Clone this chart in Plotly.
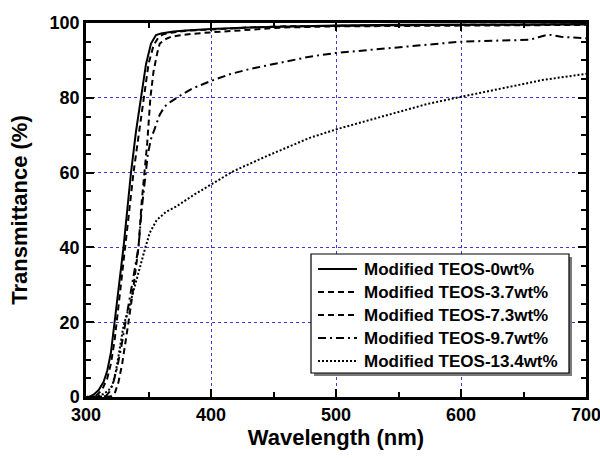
import plotly.graph_objects as go

# Transmittance spectra of films with modified TEOS content
wl_0 = [300, 303, 306, 310, 314, 317, 320, 323, 326, 330, 333, 336, 340, 344, 348, 352,
        356, 360, 365, 370, 380, 400, 430, 460, 500, 550, 600, 650, 700]
t_0 = [0, 0.1, 0.6, 1.8, 4, 7, 12, 20.5, 28, 40, 50, 60, 71, 80, 89, 94.5,
       96.8, 97.2, 97.5, 97.7, 98, 98.4, 98.8, 99.1, 99.3, 99.5, 99.6, 99.7, 99.7]

wl_37 = [300, 305, 309, 313, 317, 320, 323, 326, 329, 332, 335, 338, 342, 346, 350, 354,
         358, 362, 368, 380, 400, 430, 460, 500, 550, 600, 650, 700]
t_37 = [0, 0.1, 0.6, 2, 5, 9, 15.5, 24, 33, 42, 51, 60, 70, 80, 89, 94,
        96.2, 97, 97.4, 97.9, 98.3, 98.8, 99.1, 99.3, 99.4, 99.5, 99.6, 99.6]

wl_73 = [300, 315, 320, 323, 326, 329, 332, 334, 337, 340, 342, 344.5, 347, 349, 351.5,
         354, 357, 359, 363, 368, 373, 385, 400, 430, 458, 500, 550, 600, 650, 700]
t_73 = [0, 0, 0.2, 1, 4, 9, 15, 20, 27, 34, 40, 52, 60, 68, 80,
        87, 92, 94.5, 95.6, 96.3, 96.6, 97.1, 97.5, 98.2, 98.8, 99.1, 99.2, 99.3, 99.4, 99.5]

wl_97 = [300, 312, 316, 319, 322, 325, 328, 331, 334, 337, 340, 342, 344.5, 347, 349.5,
         352, 355, 359, 363, 368, 375, 385, 400, 415, 431, 458, 479, 500, 538, 572, 600,
         630, 655, 662, 670, 680, 690, 700]
t_97 = [0, 0, 0.3, 1.5, 4, 8, 13, 19, 25, 31, 36, 40, 50, 58, 65,
        69, 72, 75.5, 77.7, 79, 80.5, 82.5, 84.5, 86.3, 87.7, 89.6, 91.0, 92.0, 93.2, 94.3, 95,
        95.3, 95.5, 96.2, 96.9, 96.3, 96, 95.9]

wl_134 = [300, 308, 314, 318, 321, 324, 327, 330, 334, 339, 343, 347.5, 351, 356.5, 364,
          372.5, 386, 400.5, 418, 444.5, 479, 500.5, 538, 572.5, 600.5, 644.5, 666, 700]
t_134 = [0, 0.2, 0.8, 1.8, 3, 7, 13, 19, 23.5, 29.6, 35, 40, 43.9, 47.3, 49.5,
         51, 54, 56.8, 60.4, 64.4, 69.3, 71.6, 75.1, 78.3, 80.3, 83.2, 84.8, 86.4]

labels = ["Modified TEOS-0wt%", "Modified TEOS-3.7wt%", "Modified TEOS-7.3wt%",
          "Modified TEOS-9.7wt%", "Modified TEOS-13.4wt%"]
wavelengths = [wl_0, wl_37, wl_73, wl_97, wl_134]
transmittance = [t_0, t_37, t_73, t_97, t_134]
dashes = ["solid", "6px,4px", "6px,4px", "8px,4px,2px,4px", "2px,2px"]

x_ticks = [300, 400, 500, 600, 700]
y_ticks = [0, 20, 40, 60, 80, 100]

FONT = "Liberation Sans, Arial, sans-serif"
W, H = 600, 458
ML, MR, MT, MB = 86, 14, 23, 61
PW, PH = W - ML - MR, H - MT - MB


def px(xp):
    """pixel column -> paper x"""
    return (xp - ML) / PW


def py(yp):
    """pixel row -> paper y"""
    return (H - MB - yp) / PH


fig = go.Figure()
for name, wl, t, dash in zip(labels, wavelengths, transmittance, dashes):
    fig.add_trace(go.Scatter(x=wl, y=t, mode="lines", name=name, showlegend=False,
                             line=dict(color="black", width=2, dash=dash)))

axis_common = dict(
    showline=True, linecolor="black", linewidth=2.5, mirror="allticks",
    ticks="inside", ticklen=8, tickwidth=2, tickcolor="black",
    showgrid=True, gridcolor="#3a3adf", gridwidth=1, griddash="dot",
    zeroline=False, ticklabeloverflow="allow", automargin=False,
    tickfont=dict(family=FONT, size=18, color="black", weight="bold"),
)

fig.update_xaxes(
    range=[300, 700], tickvals=x_ticks,
    minor=dict(dtick=50, tick0=300, ticks="inside", ticklen=5, tickwidth=2,
               tickcolor="black", showgrid=False),
    title=dict(text="Wavelength (nm)", standoff=6,
               font=dict(family=FONT, size=22, color="black", weight="bold")),
    **axis_common,
)
fig.update_yaxes(
    range=[0, 100], tickvals=y_ticks,
    minor=dict(dtick=5, tick0=0, ticks="inside", ticklen=5, tickwidth=2,
               tickcolor="black", showgrid=False),
    title=dict(text="Transmittance (%)", standoff=16,
               font=dict(family=FONT, size=22, color="black", weight="bold")),
    **axis_common,
)

# legend box with drop shadow
box_l, box_r, box_t, box_b = 311, 569, 254, 373
shadow = 3
fig.add_shape(type="rect", xref="paper", yref="paper",
              x0=px(box_l + shadow), x1=px(box_r + shadow),
              y0=py(box_b + shadow), y1=py(box_t + shadow),
              fillcolor="#7a7a7a", line=dict(width=0), layer="above")
fig.add_shape(type="rect", xref="paper", yref="paper",
              x0=px(box_l), x1=px(box_r), y0=py(box_b), y1=py(box_t),
              fillcolor="white", line=dict(color="black", width=1.2), layer="above")

# legend entries
row_y0, row_step = 269, 23
for i, (name, dash) in enumerate(zip(labels, dashes)):
    yy = py(row_y0 + i * row_step)
    fig.add_shape(type="line", xref="paper", yref="paper",
                  x0=px(318), x1=px(357), y0=yy, y1=yy,
                  line=dict(color="black", width=2, dash=dash), layer="above")
    fig.add_annotation(x=px(362), y=yy, xref="paper", yref="paper",
                       xanchor="left", yanchor="middle", showarrow=False,
                       text=name,
                       font=dict(family=FONT, size=17, color="black", weight="bold"))

fig.update_layout(
    width=W, height=H,
    margin=dict(l=ML, r=MR, t=MT, b=MB),
    paper_bgcolor="white", plot_bgcolor="white",
    showlegend=False,
)

fig.write_html("out.html")
